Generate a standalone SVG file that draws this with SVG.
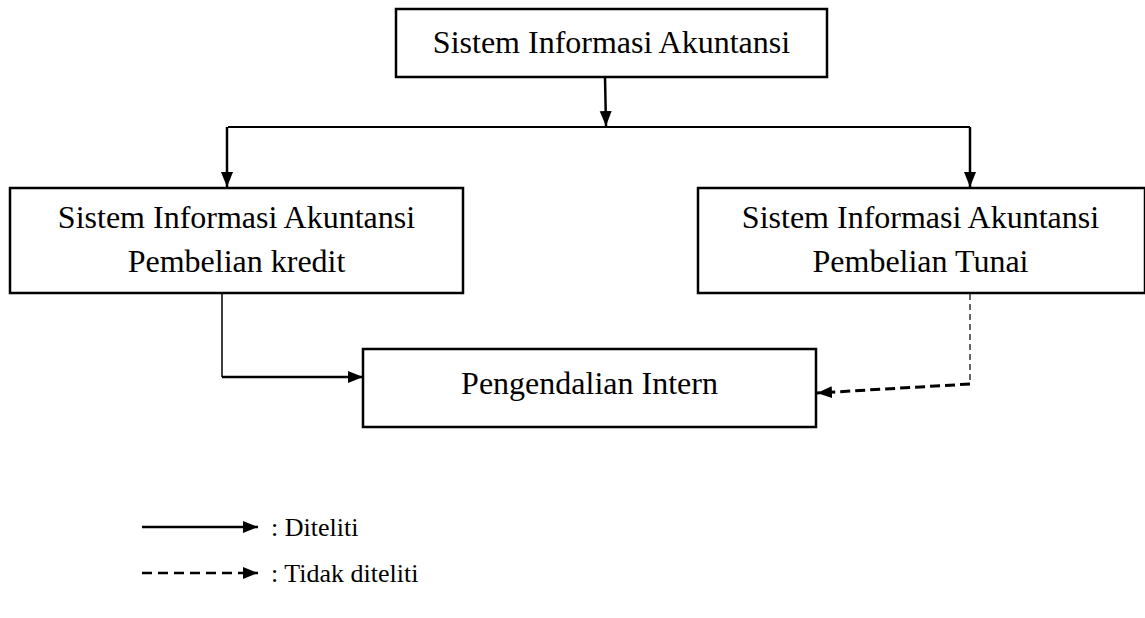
<svg xmlns="http://www.w3.org/2000/svg" width="1145" height="618" viewBox="0 0 1145 618">
<style>
.box{fill:#fff;stroke:#000;stroke-width:2.5}
.t{font-family:"Liberation Serif","Times New Roman",serif;font-size:32px;fill:#000}
.lg{font-family:"Liberation Serif","Times New Roman",serif;font-size:26px;fill:#000}
.c{text-anchor:middle}
.ln{fill:none;stroke:#000}
</style>
<defs>
<marker id="ah" markerUnits="userSpaceOnUse" markerWidth="15" markerHeight="14" viewBox="0 0 15 14" refX="15" refY="7" orient="auto">
<path d="M0,1 L15,7 L0,13 Z" fill="#000"/>
</marker>
</defs>
<rect width="1145" height="618" fill="#fff"/>
<g id="n-sia">
<rect class="box" x="396" y="9" width="431" height="68"/>
<text class="t c" x="611.5" y="53">Sistem Informasi Akuntansi</text>
</g>
<g id="n-kredit">
<rect class="box" x="10" y="188" width="453" height="105"/>
<text class="t c" x="236.5" y="228">Sistem Informasi Akuntansi</text>
<text class="t c" x="236.5" y="272">Pembelian kredit</text>
</g>
<g id="n-tunai">
<rect class="box" x="698" y="188" width="447" height="105"/>
<text class="t c" x="920.5" y="228">Sistem Informasi Akuntansi</text>
<text class="t c" x="920.5" y="272">Pembelian Tunai</text>
</g>
<g id="n-intern">
<rect class="box" x="363" y="349" width="453" height="78"/>
<text class="t c" x="589.5" y="394">Pengendalian Intern</text>
</g>
<g id="connectors">
<line class="ln" x1="605" y1="77" x2="606" y2="126" stroke-width="2.5" marker-end="url(#ah)"/>
<polyline class="ln" points="228,127 970,127" stroke-width="2"/>
<line class="ln" x1="227" y1="127" x2="227" y2="187" stroke-width="2.5" marker-end="url(#ah)"/>
<line class="ln" x1="970" y1="127" x2="970" y2="187" stroke-width="2.5" marker-end="url(#ah)"/>
<line class="ln" x1="222" y1="293" x2="222" y2="377" stroke-width="1.5"/>
<line class="ln" x1="222" y1="377" x2="363" y2="377" stroke-width="2.5" marker-end="url(#ah)"/>
<line class="ln" x1="970" y1="294" x2="970" y2="384" stroke-width="1.2" stroke-dasharray="6,4"/>
<line class="ln" x1="970" y1="384" x2="817" y2="393" stroke-width="3" stroke-dasharray="10,5" marker-end="url(#ah)"/>
</g>
<g id="legend">
<line class="ln" x1="142" y1="527" x2="258" y2="527" stroke-width="2.5" marker-end="url(#ah)"/>
<text class="lg" x="271" y="536">:  Diteliti</text>
<line class="ln" x1="142" y1="573" x2="258" y2="573" stroke-width="2.5" stroke-dasharray="10,6" marker-end="url(#ah)"/>
<text class="lg" x="271" y="582">:  Tidak diteliti</text>
</g>
</svg>
